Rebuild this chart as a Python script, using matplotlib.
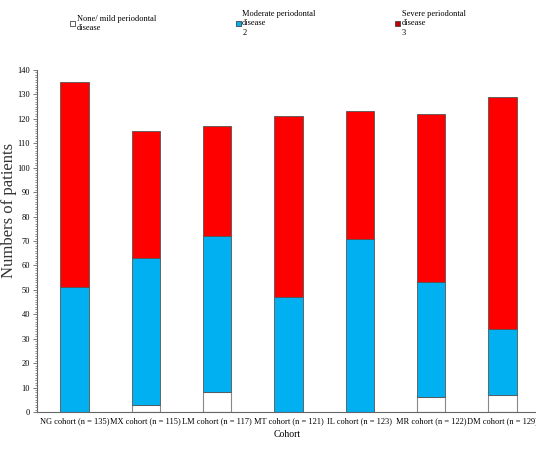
import matplotlib
matplotlib.use("Agg")
from matplotlib import pyplot as plt
from matplotlib.patches import Patch
from matplotlib.ticker import MultipleLocator
import numpy as np

# data
cohorts = ["NG cohort (n = 135)", "MX cohort (n = 115)", "LM cohort (n = 117)",
           "MT cohort (n = 121)", "IL cohort (n = 123)", "MR cohort (n = 122)",
           "DM cohort (n = 129)"]
none_mild = [0, 3, 8, 0, 0, 6, 7]
moderate = [51, 60, 64, 47, 71, 47, 27]
severe = [84, 52, 45, 74, 52, 69, 95]

legend_labels = ["None/ mild periodontal\ndisease",
                 "Moderate periodontal\ndisease\n2",
                 "Severe periodontal\ndisease\n3"]

plt.rcParams['font.family'] = ['Liberation Serif', 'DejaVu Serif']

fig = plt.figure(figsize=(5.36, 4.54), dpi=100)
ax = fig.add_axes([0.069, 0.0925, 0.935, 0.7535])

x = np.arange(len(cohorts))
w = 0.4
edge = '#555555'
ax.bar(x, none_mild, w, color='white', edgecolor='#888888', linewidth=0.8)
ax.bar(x, moderate, w, bottom=none_mild, color='#00B0F0', edgecolor=edge, linewidth=0.6)
bot2 = np.array(none_mild) + np.array(moderate)
ax.bar(x, severe, w, bottom=bot2, color='#FF0000', edgecolor=edge, linewidth=0.6)

ax.set_xlim(-0.525, 6.5)
ax.set_ylim(0, 140)
ax.yaxis.set_major_locator(MultipleLocator(10))
ax.yaxis.set_minor_locator(MultipleLocator(1))
ax.set_xticks(x)
ax.set_xticklabels(cohorts, fontsize=6)
ax.tick_params(axis='y', labelsize=6, length=3, width=0.6, color='#666666', pad=2)
ax.tick_params(axis='y', which='minor', length=1.5, width=0.5, color='#666666')
ax.tick_params(axis='x', length=0, pad=4)
for s in ['top', 'right']:
    ax.spines[s].set_visible(False)
for s in ['left', 'bottom']:
    ax.spines[s].set_color('#666666')
    ax.spines[s].set_linewidth(0.8)

ax.set_ylabel("Numbers of patients", fontsize=12, color='#333333')
ax.yaxis.set_label_coords(-0.04, 0.59)
ax.set_xlabel("Cohort", fontsize=7, labelpad=3)

handles = [Patch(facecolor='white', edgecolor='#444444', linewidth=0.6),
           Patch(facecolor='#00B0F0', edgecolor='#444444', linewidth=0.6),
           Patch(facecolor='#C00000', edgecolor='#444444', linewidth=0.6)]
fig.legend(handles, legend_labels, loc='upper left', bbox_to_anchor=(0.125, 0.985),
           ncol=3, frameon=False, fontsize=6, handlelength=0.6, handleheight=0.6,
           handletextpad=0.2, columnspacing=9.5, borderaxespad=0)

fig.savefig("out.png", dpi=100)
